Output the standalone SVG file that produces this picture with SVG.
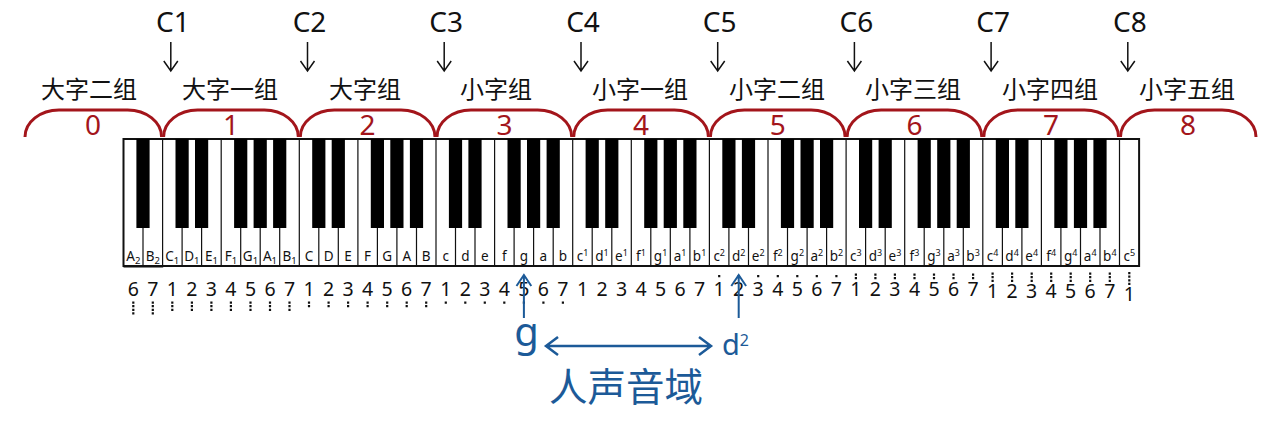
<svg xmlns="http://www.w3.org/2000/svg" width="1263" height="427" viewBox="0 0 1263 427">
<style>
.cl{font-family:"Noto Sans","DejaVu Sans",sans-serif;font-size:28px;text-anchor:middle;fill:#111}
.gl{font-family:"Noto Sans CJK SC","Noto Sans",sans-serif;font-size:24px;text-anchor:middle;fill:#111}
.rn{font-family:"Noto Sans","DejaVu Sans",sans-serif;font-size:28px;text-anchor:middle;fill:#a3151b}
.arch{fill:none;stroke:#a3151b;stroke-width:3}
.wk{fill:#fff;stroke:#111;stroke-width:2}
.kline{stroke:#111;stroke-width:1.2;fill:none}
.bk{fill:#000}
.kl{font-family:"Noto Sans","DejaVu Sans",sans-serif;font-size:13.5px;text-anchor:middle;fill:#111}
.sb{font-size:9.5px}
.sp{font-size:9px}
.jp{font-family:"Noto Sans","DejaVu Sans",sans-serif;font-size:19.5px;text-anchor:middle;fill:#111}
.dots{stroke:#111;stroke-width:2.2;stroke-dasharray:2.2 1.4;fill:none}
.arr{stroke:#111;stroke-width:1.5;fill:none}
.blu{stroke:#1c5a98;stroke-width:2;fill:none}
.blu2{stroke:#1c5a98;stroke-width:2.5;fill:none}
.bt{font-family:"Noto Sans","DejaVu Sans",sans-serif;fill:#1c5a98}
.bc{font-family:"Noto Sans CJK SC","Noto Sans",sans-serif;fill:#1c5a98;font-size:38.5px;text-anchor:middle}
</style>

<g id="c-markers">
<text class="cl" x="172.8" y="32">C1</text>
<text class="cl" x="309.5" y="32">C2</text>
<text class="cl" x="446.2" y="32">C3</text>
<text class="cl" x="583" y="32">C4</text>
<text class="cl" x="719.7" y="32">C5</text>
<text class="cl" x="856.4" y="32">C6</text>
<text class="cl" x="993.1" y="32">C7</text>
<text class="cl" x="1129.8" y="32">C8</text>
</g>

<g id="group-names">
<text class="gl" x="89" y="97.6">大字二组</text>
<text class="gl" x="230" y="97.6">大字一组</text>
<text class="gl" x="365" y="97.6">大字组</text>
<text class="gl" x="496" y="97.6">小字组</text>
<text class="gl" x="640" y="97.6">小字一组</text>
<text class="gl" x="777" y="97.6">小字二组</text>
<text class="gl" x="913" y="97.6">小字三组</text>
<text class="gl" x="1050" y="97.6">小字四组</text>
<text class="gl" x="1187" y="97.6">小字五组</text>
</g>

<g id="octave-brackets">
<path class="arch" d="M25 137A34 27 0 0 1 59 110L127.6 110A34 27 0 0 1 161.6 137"/>
<path class="arch" d="M163.6 137A34 27 0 0 1 197.6 110L264.3 110A34 27 0 0 1 298.3 137"/>
<path class="arch" d="M300.3 137A34 27 0 0 1 334.3 110L401 110A34 27 0 0 1 435 137"/>
<path class="arch" d="M437 137A34 27 0 0 1 471 110L537.7 110A34 27 0 0 1 571.7 137"/>
<path class="arch" d="M573.7 137A34 27 0 0 1 607.7 110L674.4 110A34 27 0 0 1 708.4 137"/>
<path class="arch" d="M710.4 137A34 27 0 0 1 744.4 110L811.1 110A34 27 0 0 1 845.1 137"/>
<path class="arch" d="M847.1 137A34 27 0 0 1 881.1 110L947.8 110A34 27 0 0 1 981.8 137"/>
<path class="arch" d="M983.8 137A34 27 0 0 1 1017.8 110L1084.5 110A34 27 0 0 1 1118.5 137"/>
<path class="arch" d="M1120.5 137A34 27 0 0 1 1154.5 110L1222 110A34 27 0 0 1 1256 137"/>
<text class="rn" x="93" y="135">0</text>
<text class="rn" x="231" y="135">1</text>
<text class="rn" x="367.6" y="135">2</text>
<text class="rn" x="504.4" y="135">3</text>
<text class="rn" x="641" y="135">4</text>
<text class="rn" x="777.8" y="135">5</text>
<text class="rn" x="914.5" y="135">6</text>
<text class="rn" x="1051" y="135">7</text>
<text class="rn" x="1188" y="135">8</text>
</g>

<g id="keyboard">
<rect class="wk" x="123.5" y="139" width="1015.6" height="127"/>
<path class="kline" d="M143 139V266M162.6 139V266M182.1 139V266M201.6 139V266M221.2 139V266M240.7 139V266M260.2 139V266M279.7 139V266M299.3 139V266M318.8 139V266M338.3 139V266M357.9 139V266M377.4 139V266M396.9 139V266M416.5 139V266M436 139V266M455.5 139V266M475 139V266M494.6 139V266M514.1 139V266M533.6 139V266M553.2 139V266M572.7 139V266M592.2 139V266M611.8 139V266M631.3 139V266M650.8 139V266M670.3 139V266M689.9 139V266M709.4 139V266M728.9 139V266M748.5 139V266M768 139V266M787.5 139V266M807.1 139V266M826.6 139V266M846.1 139V266M865.6 139V266M885.2 139V266M904.7 139V266M924.2 139V266M943.8 139V266M963.3 139V266M982.8 139V266M1002.4 139V266M1021.9 139V266M1041.4 139V266M1060.9 139V266M1080.5 139V266M1100 139V266M1119.5 139V266"/>
<path class="kline" d="M123.5 266.8H162.6V266" stroke-width="1.6"/>
<g class="bk">
<rect x="136.4" y="139" width="13.2" height="89"/>
<rect x="175.5" y="139" width="13.2" height="89"/>
<rect x="195" y="139" width="13.2" height="89"/>
<rect x="234.1" y="139" width="13.2" height="89"/>
<rect x="253.6" y="139" width="13.2" height="89"/>
<rect x="273.1" y="139" width="13.2" height="89"/>
<rect x="312.2" y="139" width="13.2" height="89"/>
<rect x="331.7" y="139" width="13.2" height="89"/>
<rect x="370.8" y="139" width="13.2" height="89"/>
<rect x="390.3" y="139" width="13.2" height="89"/>
<rect x="409.9" y="139" width="13.2" height="89"/>
<rect x="448.9" y="139" width="13.2" height="89"/>
<rect x="468.4" y="139" width="13.2" height="89"/>
<rect x="507.5" y="139" width="13.2" height="89"/>
<rect x="527" y="139" width="13.2" height="89"/>
<rect x="546.6" y="139" width="13.2" height="89"/>
<rect x="585.6" y="139" width="13.2" height="89"/>
<rect x="605.2" y="139" width="13.2" height="89"/>
<rect x="644.2" y="139" width="13.2" height="89"/>
<rect x="663.7" y="139" width="13.2" height="89"/>
<rect x="683.3" y="139" width="13.2" height="89"/>
<rect x="722.3" y="139" width="13.2" height="89"/>
<rect x="741.9" y="139" width="13.2" height="89"/>
<rect x="780.9" y="139" width="13.2" height="89"/>
<rect x="800.5" y="139" width="13.2" height="89"/>
<rect x="820" y="139" width="13.2" height="89"/>
<rect x="859" y="139" width="13.2" height="89"/>
<rect x="878.6" y="139" width="13.2" height="89"/>
<rect x="917.6" y="139" width="13.2" height="89"/>
<rect x="937.2" y="139" width="13.2" height="89"/>
<rect x="956.7" y="139" width="13.2" height="89"/>
<rect x="995.8" y="139" width="13.2" height="89"/>
<rect x="1015.3" y="139" width="13.2" height="89"/>
<rect x="1054.3" y="139" width="13.2" height="89"/>
<rect x="1073.9" y="139" width="13.2" height="89"/>
<rect x="1093.4" y="139" width="13.2" height="89"/>
</g>
</g>

<g id="key-names" class="kl">
<text x="133.3" y="260.5">A<tspan class="sb" dy="3">2</tspan></text>
<text x="152.8" y="260.5">B<tspan class="sb" dy="3">2</tspan></text>
<text x="172.3" y="260.5">C<tspan class="sb" dy="3">1</tspan></text>
<text x="191.9" y="260.5">D<tspan class="sb" dy="3">1</tspan></text>
<text x="211.4" y="260.5">E<tspan class="sb" dy="3">1</tspan></text>
<text x="230.9" y="260.5">F<tspan class="sb" dy="3">1</tspan></text>
<text x="250.5" y="260.5">G<tspan class="sb" dy="3">1</tspan></text>
<text x="270" y="260.5">A<tspan class="sb" dy="3">1</tspan></text>
<text x="289.5" y="260.5">B<tspan class="sb" dy="3">1</tspan></text>
<text x="309" y="260.5">C</text>
<text x="328.6" y="260.5">D</text>
<text x="348.1" y="260.5">E</text>
<text x="367.6" y="260.5">F</text>
<text x="387.2" y="260.5">G</text>
<text x="406.7" y="260.5">A</text>
<text x="426.2" y="260.5">B</text>
<text x="445.8" y="260.5">c</text>
<text x="465.3" y="260.5">d</text>
<text x="484.8" y="260.5">e</text>
<text x="504.3" y="260.5">f</text>
<text x="523.9" y="260.5">g</text>
<text x="543.4" y="260.5">a</text>
<text x="562.9" y="260.5">b</text>
<text x="582.5" y="260.5">c<tspan class="sp" dy="-4.5">1</tspan></text>
<text x="602" y="260.5">d<tspan class="sp" dy="-4.5">1</tspan></text>
<text x="621.5" y="260.5">e<tspan class="sp" dy="-4.5">1</tspan></text>
<text x="641" y="260.5">f<tspan class="sp" dy="-4.5">1</tspan></text>
<text x="660.6" y="260.5">g<tspan class="sp" dy="-4.5">1</tspan></text>
<text x="680.1" y="260.5">a<tspan class="sp" dy="-4.5">1</tspan></text>
<text x="699.6" y="260.5">b<tspan class="sp" dy="-4.5">1</tspan></text>
<text x="719.2" y="260.5">c<tspan class="sp" dy="-4.5">2</tspan></text>
<text x="738.7" y="260.5">d<tspan class="sp" dy="-4.5">2</tspan></text>
<text x="758.2" y="260.5">e<tspan class="sp" dy="-4.5">2</tspan></text>
<text x="777.8" y="260.5">f<tspan class="sp" dy="-4.5">2</tspan></text>
<text x="797.3" y="260.5">g<tspan class="sp" dy="-4.5">2</tspan></text>
<text x="816.8" y="260.5">a<tspan class="sp" dy="-4.5">2</tspan></text>
<text x="836.4" y="260.5">b<tspan class="sp" dy="-4.5">2</tspan></text>
<text x="855.9" y="260.5">c<tspan class="sp" dy="-4.5">3</tspan></text>
<text x="875.4" y="260.5">d<tspan class="sp" dy="-4.5">3</tspan></text>
<text x="894.9" y="260.5">e<tspan class="sp" dy="-4.5">3</tspan></text>
<text x="914.5" y="260.5">f<tspan class="sp" dy="-4.5">3</tspan></text>
<text x="934" y="260.5">g<tspan class="sp" dy="-4.5">3</tspan></text>
<text x="953.5" y="260.5">a<tspan class="sp" dy="-4.5">3</tspan></text>
<text x="973.1" y="260.5">b<tspan class="sp" dy="-4.5">3</tspan></text>
<text x="992.6" y="260.5">c<tspan class="sp" dy="-4.5">4</tspan></text>
<text x="1012.1" y="260.5">d<tspan class="sp" dy="-4.5">4</tspan></text>
<text x="1031.7" y="260.5">e<tspan class="sp" dy="-4.5">4</tspan></text>
<text x="1051.2" y="260.5">f<tspan class="sp" dy="-4.5">4</tspan></text>
<text x="1070.7" y="260.5">g<tspan class="sp" dy="-4.5">4</tspan></text>
<text x="1090.2" y="260.5">a<tspan class="sp" dy="-4.5">4</tspan></text>
<text x="1109.8" y="260.5">b<tspan class="sp" dy="-4.5">4</tspan></text>
<text x="1129.3" y="260.5">c<tspan class="sp" dy="-4.5">5</tspan></text>
</g>

<g id="jianpu">
<g class="jp">
<text x="133.3" y="295.5">6</text><text x="152.8" y="295.5">7</text>
<text x="172.3" y="295.5">1</text><text x="191.9" y="295.5">2</text><text x="211.4" y="295.5">3</text><text x="230.9" y="295.5">4</text><text x="250.5" y="295.5">5</text><text x="270" y="295.5">6</text><text x="289.5" y="295.5">7</text>
<text x="309" y="295.5">1</text><text x="328.6" y="295.5">2</text><text x="348.1" y="295.5">3</text><text x="367.6" y="295.5">4</text><text x="387.2" y="295.5">5</text><text x="406.7" y="295.5">6</text><text x="426.2" y="295.5">7</text>
<text x="445.8" y="295.5">1</text><text x="465.3" y="295.5">2</text><text x="484.8" y="295.5">3</text><text x="504.3" y="295.5">4</text><text x="523.9" y="295.5">5</text><text x="543.4" y="295.5">6</text><text x="562.9" y="295.5">7</text>
<text x="582.5" y="295.5">1</text><text x="602" y="295.5">2</text><text x="621.5" y="295.5">3</text><text x="641" y="295.5">4</text><text x="660.6" y="295.5">5</text><text x="680.1" y="295.5">6</text><text x="699.6" y="295.5">7</text>
<text x="719.2" y="295.5">1</text><text x="738.7" y="295.5">2</text><text x="758.2" y="295.5">3</text><text x="777.8" y="295.5">4</text><text x="797.3" y="295.5">5</text><text x="816.8" y="295.5">6</text><text x="836.4" y="295.5">7</text>
<text x="855.9" y="295.5">1</text><text x="875.4" y="295.5">2</text><text x="894.9" y="295.5">3</text><text x="914.5" y="295.5">4</text><text x="934" y="295.5">5</text><text x="953.5" y="295.5">6</text><text x="973.1" y="295.5">7</text>
<text x="992.6" y="297.5">1</text><text x="1012.1" y="297.5">2</text><text x="1031.7" y="297.5">3</text><text x="1051.2" y="297.5">4</text><text x="1070.7" y="297.5">5</text><text x="1090.2" y="297.5">6</text><text x="1109.8" y="297.5">7</text>
<text x="1129.3" y="300.5">1</text>
</g>
<path class="dots" d="M133.3 301.5v13M152.8 301.5v13"/>
<path class="dots" d="M172.3 301.5v9.4M191.9 301.5v9.4M211.4 301.5v9.4M230.9 301.5v9.4M250.5 301.5v9.4M270 301.5v9.4M289.5 301.5v9.4"/>
<path class="dots" d="M309 301.5v5.8M328.6 301.5v5.8M348.1 301.5v5.8M367.6 301.5v5.8M387.2 301.5v5.8M406.7 301.5v5.8M426.2 301.5v5.8"/>
<path class="dots" d="M445.8 301.5v2.2M465.3 301.5v2.2M484.8 301.5v2.2M504.3 301.5v2.2M523.9 301.5v2.2M543.4 301.5v2.2M562.9 301.5v2.2"/>
<path class="dots" d="M719.2 275v2.2M738.7 275v2.2M758.2 275v2.2M777.8 275v2.2M797.3 275v2.2M816.8 275v2.2M836.4 275v2.2"/>
<path class="dots" d="M855.9 273.5v5.8M875.4 273.5v5.8M894.9 273.5v5.8M914.5 273.5v5.8M934 273.5v5.8M953.5 273.5v5.8M973.1 273.5v5.8"/>
<path class="dots" d="M992.6 272.5v9.4M1012.1 272.5v9.4M1031.7 272.5v9.4M1051.2 272.5v9.4M1070.7 272.5v9.4M1090.2 272.5v9.4M1109.8 272.5v9.4"/>
<path class="dots" d="M1129.3 272v13"/>
</g>

<g id="voice-range">
<text class="bt" x="526.5" y="346" font-size="40" text-anchor="middle">g</text>
<text class="bt" x="722" y="355" font-size="29">d<tspan font-size="16" dy="-9">2</tspan></text>
<text class="bc" x="626" y="400.5">人声音域</text>
</g>

<g id="connectors">
<g class="arr">
<path d="M170.8 42V71M163.8 61L170.8 71L177.8 61"/>
<path d="M307.5 42V71M300.5 61L307.5 71L314.5 61"/>
<path d="M444.2 42V71M437.2 61L444.2 71L451.2 61"/>
<path d="M581 42V71M574 61L581 71L588 61"/>
<path d="M717.7 42V71M710.7 61L717.7 71L724.7 61"/>
<path d="M854.4 42V71M847.4 61L854.4 71L861.4 61"/>
<path d="M991.1 42V71M984.1 61L991.1 71L998.1 61"/>
<path d="M1127.8 42V71M1120.8 61L1127.8 71L1134.8 61"/>
</g>
<path class="blu" d="M523.9 318V275M516.5 286L523.9 275L531.3 286"/>
<path class="blu" d="M738.7 318V275M731.3 286L738.7 275L746.1 286"/>
<path class="blu2" d="M546 346H711M558 337L546 346L558 355M699 337L711 346L699 355"/>
</g>
</svg>
